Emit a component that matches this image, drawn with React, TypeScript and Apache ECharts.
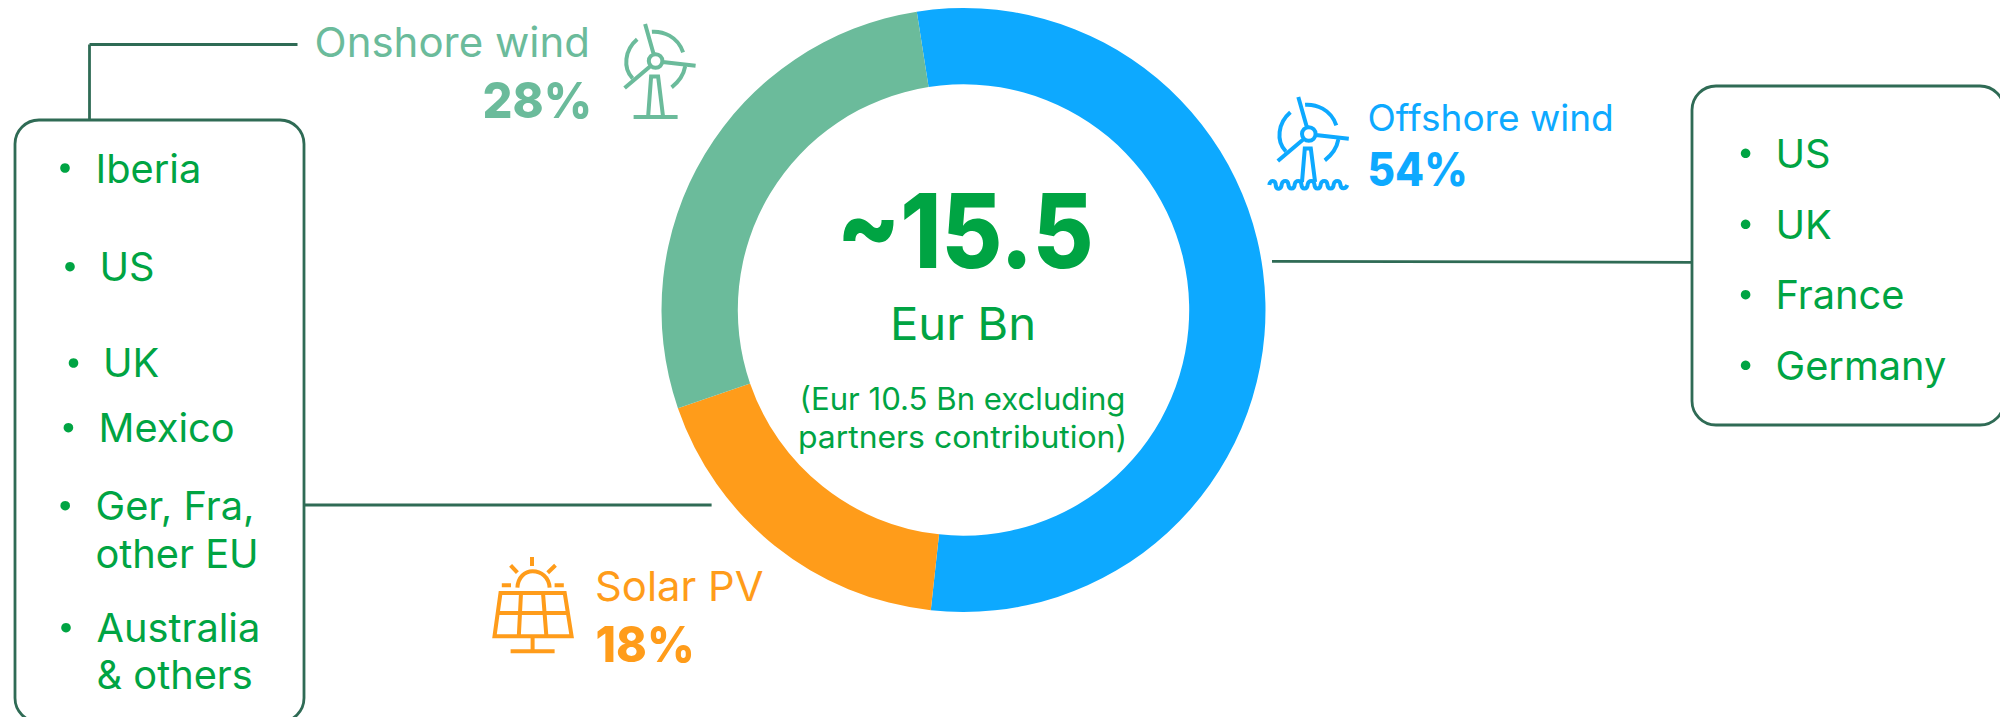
import React, { useEffect, useRef } from "react";
import * as echarts from "echarts";

const categories = ["Offshore wind", "Solar PV", "Onshore wind"];
const shares = [54.2, 18, 27.8];
const shareLabels = ["54%", "18%", "28%"];
const totalLabel = "~15.5";
const unitLabel = "Eur Bn";
const noteLines = ["(Eur 10.5 Bn excluding", "partners contribution)"];
const leftList = ["Iberia", "US", "UK", "Mexico", "Ger, Fra,", "other EU", "Australia", "& others"];
const rightList = ["US", "UK", "France", "Germany"];

const FONT = "Inter, 'Noto Sans', sans-serif";
const GREEN = "#00A443";
const BLUE = "#0DA9FF";
const ORANGE = "#FF9C1A";
const SAGE = "#6BBB9B";
const LINE = "#2F6B55";

const turbine =
  "M6.8 0A6.8 6.8 0 1 1 -6.8 0A6.8 6.8 0 1 1 6.8 0Z" +
  "M-2 -7L-10.5 -37M7 1L40 4.7M-5 5L-31 27" +
  "M-3.7 -29.3C7 -30 22 -25 27.5 -8.7" +
  "M-18.4 -21.7C-31 -11 -33 7 -23 17.3" +
  "M29.5 5.7C28 14 23 21 16 26.3";
const onshoreTower = "M-7.5 56L-4.5 15.5L2.5 15.5L7.5 56M-22 56L22 56";
const offshoreTower =
  "M-6.8 48L-4 14.5L2 14.5L6.3 48" +
  "M-39.5 51C-39 46 -33 45 -33 52C-32.5 56 -27.5 56 -27 50C-26 46 -21 46 -20.5 50C-20 56 -14.5 56 -14 50C-13 46 -8 46 -7.5 50C-7 56 -1.5 56 -1 50C0 46 5 46 5.5 50C6 56 11.5 56 12 50C13 46 18 46 18.5 50C19 56 24.5 56 25 50C26 46 31 46 31.5 50C32 56 37 55 38.5 51";
const solar =
  "M532 557L532 566M510.6 565.3L517.4 572.7M555.5 565.3L547.7 572.7M501.8 585.3L511 585.3M554.6 585.3L563.8 585.3" +
  "M517.4 587.7C518 577 525 571.3 532.6 571.3C541 571.3 549 577 549.6 587.7" +
  "M500.5 593L564.7 593L571.6 636.3L494.5 636.3ZM497.5 613L568 613M521 593L518.8 636.3M543 593L546.4 636.3" +
  "M532.6 636.3L532.6 651.3M510.6 651.3L554.6 651.3";

echarts.graphic.registerShape("turbine", echarts.graphic.extendPath(turbine, {}));
echarts.graphic.registerShape("onshoreTower", echarts.graphic.extendPath(onshoreTower, {}));
echarts.graphic.registerShape("offshoreTower", echarts.graphic.extendPath(offshoreTower, {}));
echarts.graphic.registerShape("solarIcon", echarts.graphic.extendPath(solar, {}));

const txt = (
  text: string,
  x: number,
  baseline: number,
  size: number,
  weight: number,
  fill: string,
  align: string = "left",
  scaleX: number = 1
) => ({
  type: "text",
  x,
  y: baseline - size * 0.36,
  scaleX,
  silent: true,
  style: {
    text,
    fill,
    font: `${weight} ${size}px ${FONT}`,
    textAlign: align,
    textVerticalAlign: "middle",
  },
});

const line = (x1: number, y1: number, x2: number, y2: number) => ({
  type: "line",
  silent: true,
  shape: { x1, y1, x2, y2 },
  style: { stroke: LINE, lineWidth: 2.8 },
});

const icon = (type: string, x: number, y: number, stroke: string, lineWidth = 4) => ({
  type,
  x,
  y,
  silent: true,
  style: { fill: "none", stroke, lineWidth },
});

const box = (x: number, y: number, width: number, height: number) => ({
  type: "rect",
  silent: true,
  shape: { x, y, width, height, r: 24 },
  style: { fill: "none", stroke: LINE, lineWidth: 2.8 },
});

const bullet = (cx: number, cy: number) => ({
  type: "circle",
  silent: true,
  shape: { cx, cy, r: 4.8 },
  style: { fill: GREEN },
});

const leftBaselines = [183.3, 281, 377, 442, 519.7, 567.7, 642, 689];
const leftTextX = [95.5, 99.5, 103, 98.5, 95.5, 95.5, 96.5, 96.5];
const leftBullets = [
  [65, 168],
  [70, 266.7],
  [73.5, 363],
  [68.4, 427.7],
  [65.2, 505.7],
  [66, 627.7],
];
const rightBaselines = [168.3, 239.3, 309.3, 380.3];
const rightBulletY = [153.3, 224.3, 294.7, 365.3];

export default function App() {
  const ref = useRef<HTMLDivElement>(null);
  useEffect(() => {
    document.body.style.margin = "0";
    document.body.style.overflow = "hidden";
    const chart = echarts.init(ref.current!, null, { renderer: "svg" });
    chart.setOption({
      animation: false,
      backgroundColor: "#ffffff",
      series: [
        {
          type: "pie",
          silent: true,
          center: [963.5, 310],
          radius: [225.7, 302],
          startAngle: 98.9,
          clockwise: true,
          label: { show: false },
          labelLine: { show: false },
          data: categories.map((name, i) => ({
            name,
            value: shares[i],
            itemStyle: { color: [BLUE, ORANGE, SAGE][i] },
          })),
        },
      ],
      graphic: {
        elements: [
          line(89.5, 44.5, 297.5, 44.5),
          line(89.5, 44.5, 89.5, 120),
          line(304, 505, 711.6, 505),
          line(1272, 261.3, 1692, 262.3),
          box(15, 120, 289, 602),
          box(1692, 86, 312, 339),

          txt(categories[2], 590, 56.7, 41, 400, SAGE, "right", 1.024),
          txt(shareLabels[2], 592, 118, 50, 800, SAGE, "right", 0.94),
          txt(categories[0], 1367.5, 130.7, 36.5, 400, BLUE, "left", 1.015),
          txt(shareLabels[0], 1367.5, 186, 46, 800, BLUE, "left", 0.92),
          txt(categories[1], 595, 600.5, 41, 400, ORANGE, "left", 1.02),
          txt(shareLabels[1], 595.5, 662, 50, 800, ORANGE, "left", 0.93),

          icon("turbine", 655.6, 61, SAGE),
          icon("onshoreTower", 655.6, 61, SAGE),
          icon("turbine", 1308.8, 134, BLUE),
          icon("offshoreTower", 1308.8, 134, BLUE),
          icon("solarIcon", 0, 0, ORANGE),

          txt(totalLabel, 965, 268, 103, 800, GREEN, "center", 0.905),
          txt(unitLabel, 963, 339.5, 45, 400, GREEN, "center", 1.05),
          txt(noteLines[0], 962.5, 410, 31, 400, GREEN, "center", 1.005),
          txt(noteLines[1], 962.5, 448, 31, 400, GREEN, "center", 1.03),

          ...leftList.map((t, i) => txt(t, leftTextX[i], leftBaselines[i], 39, 400, GREEN, "left", 1.02)),
          ...leftBullets.map(([x, y]) => bullet(x, y)),
          ...rightList.map((t, i) => txt(t, 1775.5, rightBaselines[i], 39, 400, GREEN, "left", 1.02)),
          ...rightBulletY.map((y) => bullet(1745.6, y)),
        ],
      },
    });
    return () => chart.dispose();
  }, []);
  return <div ref={ref} style={{ position: "fixed", left: 0, top: 0, width: 2000, height: 717 }} />;
}
